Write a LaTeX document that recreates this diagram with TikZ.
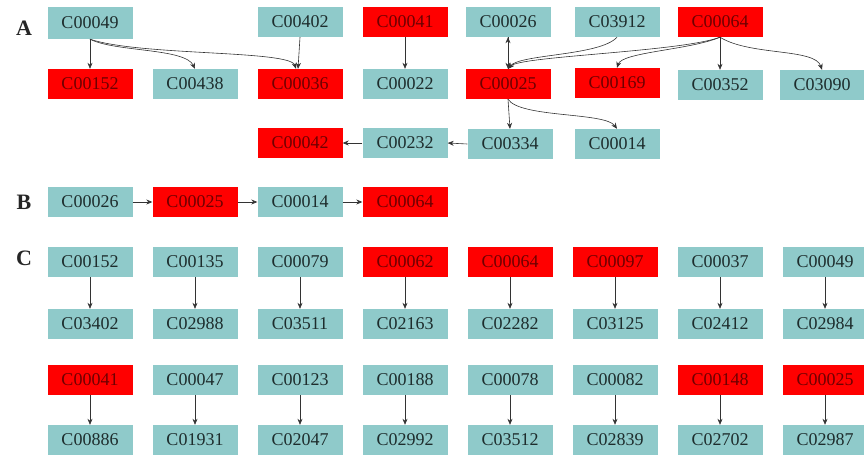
\documentclass[tikz,border=0pt]{standalone}
\usepackage{fontspec}
\setmainfont{Liberation Serif}
\usetikzlibrary{arrows.meta}
\definecolor{tealbox}{RGB}{143,202,202}
\definecolor{redbox}{RGB}{255,0,0}
\definecolor{redtext}{RGB}{110,0,0}
\definecolor{inktext}{RGB}{30,45,45}
\tikzset{
  cbox/.style={rectangle, minimum width=85pt, minimum height=30pt, inner sep=0pt,
    font=\fontsize{18}{18}\selectfont},
  plain/.style={cbox, fill=tealbox, text=inktext},
  hot/.style={cbox, fill=redbox, text=redtext},
  panel/.style={font=\fontsize{22}{22}\selectfont\bfseries, text=black!85},
  link/.style={draw=black!80, line width=0.6pt, -{Stealth[length=6pt,width=5pt]}},
}
\begin{document}
\begin{tikzpicture}[x=1pt,y=-1pt]
\useasboundingbox (0,0) rectangle (864,455);

% panel letters
\node[panel] (lA) at (24,28) {A};
\node[panel] (lB) at (24,202) {B};
\node[panel] (lC) at (24,258) {C};

% ---------- panel A ----------
\node[plain, minimum height=32pt] (a49)  at (90,23)  {C00049};
\node[plain] (a402) at (300,22) {C00402};
\node[hot]   (a41)  at (405,22) {C00041};
\node[plain] (a26)  at (508,22) {C00026};
\node[plain] (a3912) at (617,22) {C03912};
\node[hot]   (a64)  at (720,22) {C00064};

\node[hot]   (a152) at (90,84)  {C00152};
\node[plain] (a438) at (195,84) {C00438};
\node[hot]   (a36)  at (300,84) {C00036};
\node[plain] (a22)  at (405,84) {C00022};
\node[hot]   (a25)  at (508,84) {C00025};
\node[hot]   (a169) at (617,83) {C00169};
\node[plain] (a352) at (720,85) {C00352};
\node[plain] (a3090) at (822,85) {C03090};

\node[hot]   (a42)  at (300,143) {C00042};
\node[plain] (a232) at (405,143) {C00232};
\node[plain] (a334) at (510,144) {C00334};
\node[plain] (a14)  at (617,144) {C00014};

\draw[link] (a49.south) -- (a152.north);
\draw[link] (a49.south) .. controls (115,52) and (185,48) .. (a438.north);
\draw[link] (a49.south) .. controls (140,56) and (290,50) .. ([xshift=-4pt]a36.north);
\draw[link] (a402.south) -- ([xshift=-2pt]a36.north);
\draw[link] (a41.south) -- (a22.north);
\draw[link] (a25.north) -- (a26.south);
\draw[link] (a26.south) -- (a25.north);
\draw[link] (a3912.south) .. controls (600,56) and (520,54) .. (a25.north);
\draw[link] (a64.south) .. controls (680,52) and (520,56) .. (a25.north);
\draw[link] (a64.south) .. controls (690,50) and (622,52) .. (a169.north);
\draw[link] (a64.south) -- (a352.north);
\draw[link] (a64.south) .. controls (750,56) and (815,48) .. (a3090.north);
\draw[link] (a25.south) -- (a334.north);
\draw[link] (a25.south) .. controls (520,118) and (605,112) .. (a14.north);
\draw[link] (a334.west) -- (a232.east);
\draw[link] (a232.west) -- (a42.east);

% ---------- panel B ----------
\node[plain] (b26) at (90,202)  {C00026};
\node[hot]   (b25) at (195,202) {C00025};
\node[plain] (b14) at (300,202) {C00014};
\node[hot]   (b64) at (405,202) {C00064};
\draw[link] (b26) -- (b25);
\draw[link] (b25) -- (b14);
\draw[link] (b14) -- (b64);

% ---------- panel C ----------
\foreach \i/\x/\st/\top/\bot in {
  1/90/plain/C00152/C03402, 2/195/plain/C00135/C02988,
  3/300/plain/C00079/C03511, 4/405/hot/C00062/C02163,
  5/510/hot/C00064/C02282, 6/615/hot/C00097/C03125,
  7/720/plain/C00037/C02412, 8/825/plain/C00049/C02984}{
  \node[\st] (ct\i) at (\x,262) {\top};
  \node[plain] (cb\i) at (\x,324) {\bot};
  \draw[link] (ct\i) -- (cb\i);
}
\foreach \i/\x/\st/\top/\bot in {
  1/90/hot/C00041/C00886, 2/195/plain/C00047/C01931,
  3/300/plain/C00123/C02047, 4/405/plain/C00188/C02992,
  5/510/plain/C00078/C03512, 6/615/plain/C00082/C02839,
  7/720/hot/C00148/C02702, 8/825/hot/C00025/C02987}{
  \node[\st] (dt\i) at (\x,380) {\top};
  \node[plain] (db\i) at (\x,440) {\bot};
  \draw[link] (dt\i) -- (db\i);
}
\end{tikzpicture}
\end{document}
